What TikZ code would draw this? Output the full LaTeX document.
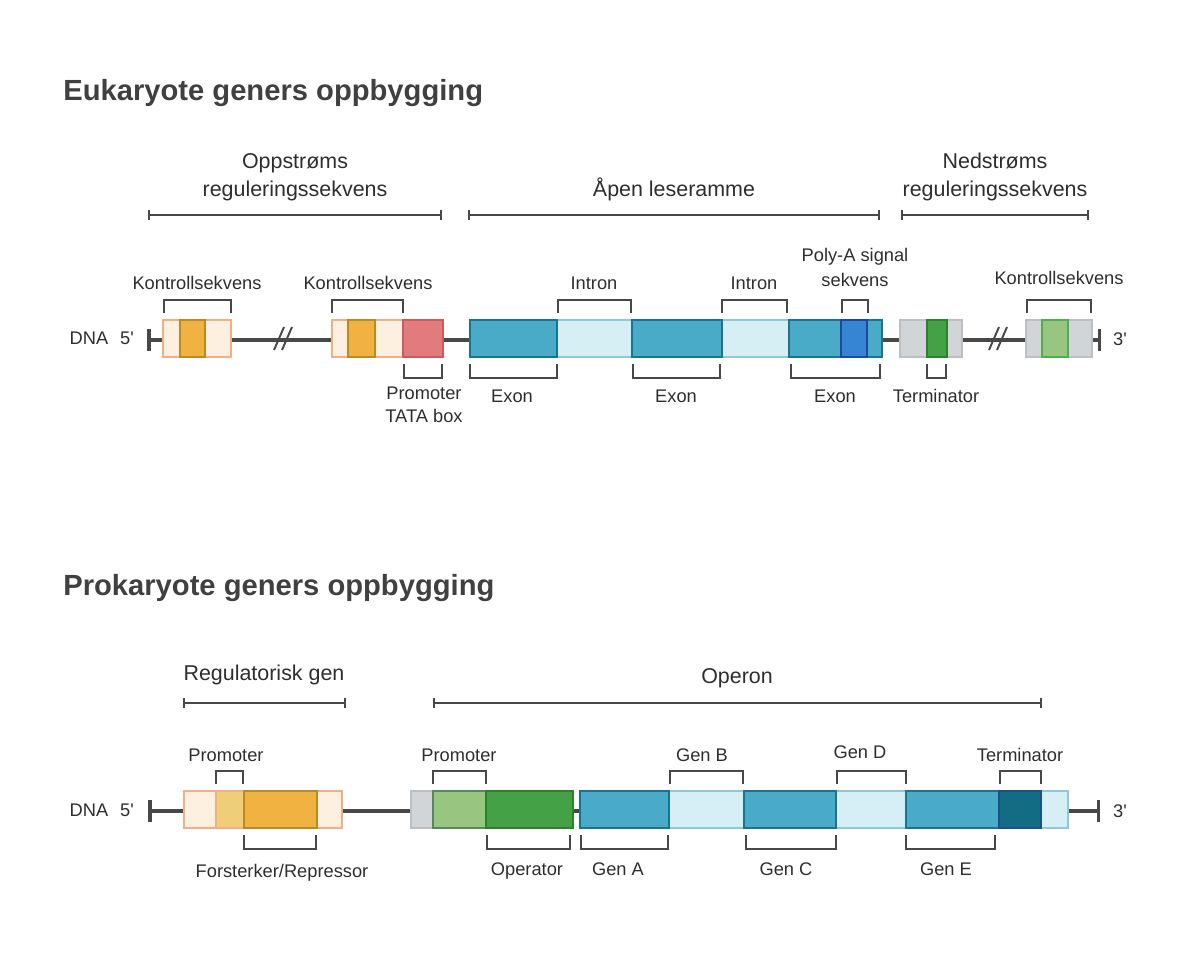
\documentclass[tikz,border=0pt]{standalone}
\usepackage{fontspec}
\setmainfont{Liberation Sans}
\usepackage{xcolor}
\usetikzlibrary{arrows.meta}

\definecolor{txtgray}{HTML}{2E2E2E}
\definecolor{linegray}{HTML}{484848}
\definecolor{lorangefill}{HTML}{FDF0E1}
\definecolor{lorangeline}{HTML}{F4AE84}
\definecolor{morangefill}{HTML}{EFCE7A}
\definecolor{dorangefill}{HTML}{F0B342}
\definecolor{dorangeline}{HTML}{B88A2C}
\definecolor{redfill}{HTML}{E17B7E}
\definecolor{redline}{HTML}{CB5B60}
\definecolor{exonfill}{HTML}{4AABC9}
\definecolor{exonline}{HTML}{1A7391}
\definecolor{intronfill}{HTML}{D5EFF4}
\definecolor{intronline}{HTML}{8DC9D6}
\definecolor{polyafill}{HTML}{3685D3}
\definecolor{polyaline}{HTML}{1F47A0}
\definecolor{grayfill}{HTML}{D2D5D8}
\definecolor{grayline}{HTML}{BDC0C3}
\definecolor{greenfill}{HTML}{44A146}
\definecolor{greenline}{HTML}{2F7F2F}
\definecolor{lgreenfill}{HTML}{98C680}
\definecolor{lgreenline}{HTML}{4EAE50}
\definecolor{termfill}{HTML}{126D84}
\definecolor{termline}{HTML}{1E4E8C}

\begin{document}
\begin{tikzpicture}[x=0.02cm, y=-0.02cm, text=txtgray,
    font=\fontsize{10.4}{14}\selectfont,
    dna/.style={line width=2pt, draw=linegray, {Bar[width=12pt]}-{Bar[width=12pt]}},
    brk/.style={line width=1.2pt, draw=linegray},
    spanbar/.style={line width=0.9pt, draw=linegray, {Bar[width=6pt]}-{Bar[width=6pt]}},
    cutmark/.style={line width=1.1pt, draw=linegray},
    lbl/.style={anchor=base, inner sep=0pt},
    head/.style={lbl, font=\fontsize{12.2}{15}\selectfont},
    bigtitle/.style={anchor=base west, inner sep=0pt, text=black!75, font=\fontsize{16.6}{20}\selectfont\bfseries},
    seg/.style={line width=1.6pt},
    lorange/.style={seg, fill=lorangefill, draw=lorangeline},
    morange/.style={seg, fill=morangefill, draw=lorangeline},
    dorange/.style={seg, fill=dorangefill, draw=dorangeline},
    promoseg/.style={seg, fill=redfill, draw=redline},
    exonseg/.style={seg, fill=exonfill, draw=exonline},
    intronseg/.style={seg, fill=intronfill, draw=intronline},
    polyaseg/.style={seg, fill=polyafill, draw=polyaline},
    grayseg/.style={seg, fill=grayfill, draw=grayline},
    greenseg/.style={seg, fill=greenfill, draw=greenline},
    lgreenseg/.style={seg, fill=lgreenfill, draw=lgreenline},
    termseg/.style={seg, fill=termfill, draw=termline}]
    \useasboundingbox (0,0) rectangle (1200,962);

    % ---------- eukaryote ----------
    \node[bigtitle] (eutitle) at (63,101) {Eukaryote geners oppbygging};

    \draw[spanbar] (148,215) -- (442,215);
    \draw[spanbar] (468,215) -- (880,215);
    \draw[spanbar] (901,215) -- (1089,215);
    \node[head] (opp1) at (295,169) {Oppstrøms};
    \node[head] (opp2) at (295,197) {reguleringssekvens};
    \node[head] (orf) at (674,197) {Åpen leseramme};
    \node[head] (ned1) at (995,169) {Nedstrøms};
    \node[head] (ned2) at (995,197) {reguleringssekvens};

    \draw[dna] (147,340) -- (1101,340);
    \foreach \x in {274,282,989,997}
        \draw[cutmark] (\x,350) -- (\x+10,327);
    \node[lbl] (dnae) at (89,345) {DNA};
    \node[lbl] (fivee) at (127,345) {5\textquotesingle};
    \node[lbl] (threee) at (1120,346) {3\textquotesingle};

    \draw[lorange] (163,320) rectangle (231,357);
    \draw[dorange] (180,320) rectangle (205,357);
    \draw[lorange] (332,320) rectangle (403,357);
    \draw[dorange] (348,320) rectangle (375,357);
    \draw[promoseg] (403,320) rectangle (443,357);

    \draw[intronseg] (470,320) rectangle (882,357);
    \foreach \a/\b in {470/557, 632/722, 789/882}
        \draw[exonseg] (\a,320) rectangle (\b,357);
    \draw[polyaseg] (841,320) rectangle (867,357);

    \draw[grayseg] (900,320) rectangle (962,357);
    \draw[greenseg] (927,320) rectangle (947,357);
    \draw[grayseg] (1026,320) rectangle (1092,357);
    \draw[lgreenseg] (1042,320) rectangle (1068,357);

    % brackets
    \foreach \a/\b in {164/231, 332/403, 558/631, 722/787, 842/868, 1027/1091}
        \draw[brk] (\a,313) |- (\b,300) -- (\b,313);
    \foreach \a/\b in {404/442, 470/557, 633/720, 791/880, 927/946}
        \draw[brk] (\a,364) |- (\b,378) -- (\b,364);

    \node[lbl] (kontroll1) at (197,290) {Kontrollsekvens};
    \node[lbl] (kontroll2) at (368,290) {Kontrollsekvens};
    \node[lbl] (intron1) at (594,290) {Intron};
    \node[lbl] (intron2) at (754,290) {Intron};
    \node[lbl] (polya1) at (855,262) {Poly-A signal};
    \node[lbl] (polya2) at (855,287) {sekvens};
    \node[lbl] (kontroll3) at (1059,285) {Kontrollsekvens};
    \node[lbl] (tata1) at (424,400) {Promoter};
    \node[lbl] (tata2) at (424,423) {TATA box};
    \node[lbl] (exon1) at (512,403) {Exon};
    \node[lbl] (exon2) at (676,403) {Exon};
    \node[lbl] (exon3) at (835,403) {Exon};
    \node[lbl] (termeu) at (936,403) {Terminator};

    % ---------- prokaryote ----------
    \node[bigtitle] (protitle) at (63,595) {Prokaryote geners oppbygging};

    \draw[spanbar] (183,703) -- (346,703);
    \draw[spanbar] (433,703) -- (1042,703);
    \node[head] (reggen) at (264,680) {Regulatorisk gen};
    \node[head] (operon) at (737,683) {Operon};

    \draw[dna] (148,811) -- (1100,811);
    \node[lbl] (dnap) at (89,816) {DNA};
    \node[lbl] (fivep) at (127,816) {5\textquotesingle};
    \node[lbl] (threep) at (1120,817) {3\textquotesingle};

    \draw[lorange] (184,791) rectangle (342,828);
    \draw[morange] (216,791) rectangle (244,828);
    \draw[dorange] (244,791) rectangle (317,828);

    \draw[grayseg] (411,791) rectangle (433,828);
    \draw[lgreenseg, draw=lgreenline!60!black!80] (433,791) rectangle (486,828);
    \draw[greenseg] (486,791) rectangle (573,828);

    \draw[intronseg] (580,791) rectangle (1068,828);
    \foreach \a/\b in {580/669, 744/836, 906/999}
        \draw[exonseg] (\a,791) rectangle (\b,828);
    \draw[termseg] (999,791) rectangle (1041,828);

    \foreach \a/\b in {216/243, 433/486, 670/743, 837/906, 1000/1041}
        \draw[brk] (\a,784) |- (\b,771) -- (\b,784);
    \foreach \a/\b in {244/316, 487/570, 581/668, 746/836, 906/995}
        \draw[brk] (\a,835) |- (\b,849) -- (\b,835);

    \node[lbl] (promo1) at (226,761) {Promoter};
    \node[lbl] (promo2) at (459,761) {Promoter};
    \node[lbl] (genb) at (702,761) {Gen B};
    \node[lbl] (gend) at (860,758) {Gen D};
    \node[lbl] (termpro) at (1020,761) {Terminator};
    \node[lbl] (forst) at (282,877) {Forsterker/Repressor};
    \node[lbl] (oper) at (527,875) {Operator};
    \node[lbl] (gena) at (618,875) {Gen A};
    \node[lbl] (genc) at (786,875) {Gen C};
    \node[lbl] (gene) at (946,875) {Gen E};
\end{tikzpicture}
\end{document}
